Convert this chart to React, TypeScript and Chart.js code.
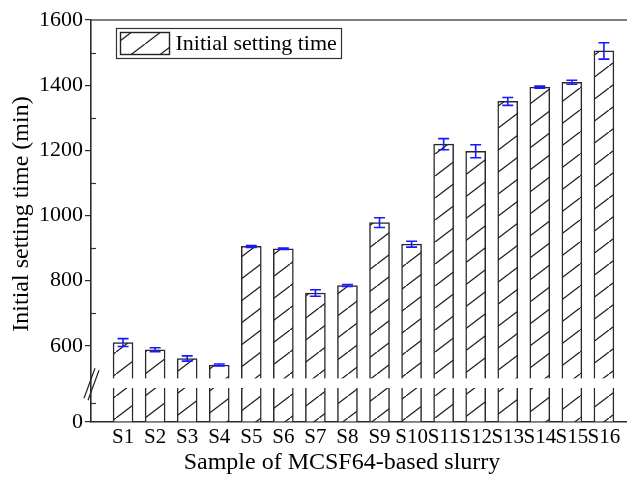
import React, { useEffect, useRef } from "react";
import { Chart, registerables, LinearScale } from "chart.js";

Chart.register(...registerables);

// ---------- data ----------
const categories = ["S1", "S2", "S3", "S4", "S5", "S6", "S7", "S8", "S9", "S10", "S11", "S12", "S13", "S14", "S15", "S16"];
const settingTime = [610, 588, 561, 541, 905, 898, 762, 785, 978, 912, 1219, 1197, 1350, 1394, 1409, 1505];
const settingError = [12, 6, 8, 3, 3, 2, 10, 3, 15, 9, 17, 20, 12, 3, 6, 25];
const yMajorTicks = [0, 600, 800, 1000, 1200, 1400, 1600];
const yMinorTicks = [50, 700, 900, 1100, 1300, 1500];
const seriesLabel = "Initial setting time";
const xTitle = "Sample of MCSF64-based slurry";
const yTitle = "Initial setting time (min)";

// axis break
const BREAK_LOW = 90;
const BREAK_HIGH = 500;
const LOW_FRAC = 34 / 402;
const GAP_FRAC = 9.6 / 402;

const FONT = "'Liberation Serif', 'Times New Roman', serif";

class BrokenLinearScale extends LinearScale {
  static id = "brokenLinear";
  static defaults = LinearScale.defaults;
  segs() {
    const h = this.bottom - this.top;
    const lowH = h * LOW_FRAC;
    const gapH = h * GAP_FRAC;
    const upH = h - lowH - gapH;
    return { h, lowH, gapH, upH };
  }
  getPixelForValue(value: number) {
    if (value === null || value === undefined || isNaN(value)) return NaN;
    const { lowH, gapH, upH } = this.segs();
    const b = this.bottom;
    if (value <= BREAK_LOW) return b - (value / BREAK_LOW) * lowH;
    if (value >= BREAK_HIGH) return b - lowH - gapH - ((value - BREAK_HIGH) / (this.max - BREAK_HIGH)) * upH;
    return b - lowH - ((value - BREAK_LOW) / (BREAK_HIGH - BREAK_LOW)) * gapH;
  }
  getValueForPixel(pixel: number) {
    const { lowH, gapH, upH } = this.segs();
    const d = this.bottom - pixel;
    if (d <= lowH) return (d / lowH) * BREAK_LOW;
    if (d >= lowH + gapH) return BREAK_HIGH + ((d - lowH - gapH) / upH) * (this.max - BREAK_HIGH);
    return BREAK_LOW + ((d - lowH) / gapH) * (BREAK_HIGH - BREAK_LOW);
  }
}
Chart.register(BrokenLinearScale as any);

function makeHatch(): CanvasPattern | string {
  const w = 29, h = 22;
  const c = document.createElement("canvas");
  c.width = w;
  c.height = h;
  const g = c.getContext("2d");
  if (!g) return "#fff";
  g.fillStyle = "#fff";
  g.fillRect(0, 0, w, h);
  g.strokeStyle = "#1e1e1e";
  g.lineWidth = 1.3;
  g.beginPath();
  g.moveTo(-w, 2 * h);
  g.lineTo(2 * w, -h);
  g.stroke();
  return g.createPattern(c, "repeat") || "#fff";
}

const overlayPlugin = {
  id: "overlay",
  afterDatasetsDraw(chart: any) {
    const ctx = chart.ctx as CanvasRenderingContext2D;
    const ca = chart.chartArea;
    const ys = chart.scales.y;
    const meta = chart.getDatasetMeta(0);
    ctx.save();

    // axis break gap
    const gTop = ys.getPixelForValue(BREAK_HIGH);
    const gBot = ys.getPixelForValue(BREAK_LOW);
    ctx.fillStyle = "#fff";
    ctx.fillRect(ca.left + 1.5, gTop, ca.right - ca.left, gBot - gTop);

    // error bars
    ctx.strokeStyle = "rgb(25,25,255)";
    ctx.lineWidth = 1.6;
    meta.data.forEach((bar: any, i: number) => {
      const x = bar.x;
      const yHi = ys.getPixelForValue(settingTime[i] + settingError[i]);
      const yLo = ys.getPixelForValue(settingTime[i] - settingError[i]);
      const cap = 5.5;
      ctx.beginPath();
      ctx.moveTo(x, yHi);
      ctx.lineTo(x, yLo);
      ctx.moveTo(x - cap, yHi);
      ctx.lineTo(x + cap, yHi);
      ctx.moveTo(x - cap, yLo);
      ctx.lineTo(x + cap, yLo);
      ctx.stroke();
    });

    // top frame line
    ctx.strokeStyle = "#555";
    ctx.lineWidth = 1.5;
    ctx.beginPath();
    ctx.moveTo(ca.left, ca.top);
    ctx.lineTo(ca.right, ca.top);
    ctx.stroke();

    // minor ticks (inside)
    ctx.strokeStyle = "#333";
    ctx.lineWidth = 1.2;
    yMinorTicks.forEach((v) => {
      const y = Math.round(ys.getPixelForValue(v)) + 0.5;
      ctx.beginPath();
      ctx.moveTo(ca.left, y);
      ctx.lineTo(ca.left + 5, y);
      ctx.stroke();
    });

    // break marks
    const cx = ca.left;
    const cy = (gTop + gBot) / 2;
    ctx.strokeStyle = "#222";
    ctx.lineWidth = 1.2;
    ctx.beginPath();
    ctx.moveTo(cx - 7, cy + 15);
    ctx.lineTo(cx + 4, cy - 15);
    ctx.moveTo(cx - 3, cy + 17);
    ctx.lineTo(cx + 8, cy - 13);
    ctx.stroke();

    // legend
    const lx = 116.5, ly = 28.5, lw = 225, lh = 30;
    ctx.fillStyle = "#fff";
    ctx.fillRect(lx, ly, lw, lh);
    ctx.strokeStyle = "#333";
    ctx.lineWidth = 1.2;
    ctx.strokeRect(lx, ly, lw, lh);
    ctx.fillStyle = chart.data.datasets[0].backgroundColor;
    ctx.fillRect(lx + 4, ly + 4, 49, 22);
    ctx.strokeStyle = "#222";
    ctx.lineWidth = 1.4;
    ctx.strokeRect(lx + 4, ly + 4, 49, 22);
    ctx.fillStyle = "#000";
    ctx.font = `22px ${FONT}`;
    ctx.textAlign = "left";
    ctx.textBaseline = "middle";
    ctx.fillText(chart.data.datasets[0].label, lx + 59, ly + lh / 2 + 1);

    // axis titles
    ctx.font = `24px ${FONT}`;
    ctx.textAlign = "center";
    ctx.textBaseline = "middle";
    ctx.fillText(xTitle, 342, 463);
    ctx.save();
    ctx.translate(22, 214);
    ctx.rotate(-Math.PI / 2);
    ctx.fillText(yTitle, 0, 0);
    ctx.restore();

    ctx.restore();
  },
};

export default function App() {
  const ref = useRef<HTMLCanvasElement | null>(null);
  useEffect(() => {
    if (!ref.current) return;
    const hatch = makeHatch();
    const chart = new Chart(ref.current, {
      type: "bar",
      data: {
        datasets: [
          {
            label: seriesLabel,
            data: categories.map((_, i) => ({ x: i + 1, y: settingTime[i] })) as any,
            backgroundColor: hatch as any,
            borderColor: "#2a2a2a",
            borderWidth: 1.5,
            borderSkipped: "bottom",
            barThickness: 20,
          },
        ],
      },
      options: {
        animation: false,
        responsive: false,
        devicePixelRatio: 1,
        layout: { padding: { top: 20, right: 0, left: 0, bottom: 0 } },
        plugins: { legend: { display: false }, tooltip: { enabled: false } },
        scales: {
          x: {
            type: "linear",
            min: 0,
            max: 16.72,
            offset: false,
            grid: { display: false, drawTicks: false },
            border: { display: true, color: "#2a2a2a", width: 1.6 },
            afterBuildTicks: (scale: any) => {
              scale.ticks = categories.map((_, i) => ({ value: i + 1 }));
            },
            afterFit: (scale: any) => {
              scale.height = 57;
            },
            ticks: {
              autoSkip: false,
              maxRotation: 0,
              minRotation: 0,
              padding: 3,
              color: "#000",
              font: { family: FONT, size: 21 },
              callback: (_v: any, i: number) => categories[i],
            },
          },
          y: {
            type: "brokenLinear" as any,
            min: 0,
            max: 1600,
            grid: { display: true, drawOnChartArea: false, drawTicks: true, tickLength: 6, color: "#2a2a2a", lineWidth: 1.2 },
            border: { display: true, color: "#2a2a2a", width: 1.6 },
            afterBuildTicks: (scale: any) => {
              scale.ticks = yMajorTicks.map((v) => ({ value: v }));
            },
            afterFit: (scale: any) => {
              scale.width = 91;
            },
            ticks: {
              padding: 2,
              color: "#000",
              font: { family: FONT, size: 22 },
              callback: (v: any) => String(v),
            },
          } as any,
        },
      },
      plugins: [overlayPlugin],
    });
    return () => chart.destroy();
  }, []);
  return (
    <div style={{ position: "fixed", left: 0, top: 0, width: 627, height: 479, background: "#fff" }}>
      <canvas ref={ref} width={627} height={479} style={{ display: "block" }} />
    </div>
  );
}
